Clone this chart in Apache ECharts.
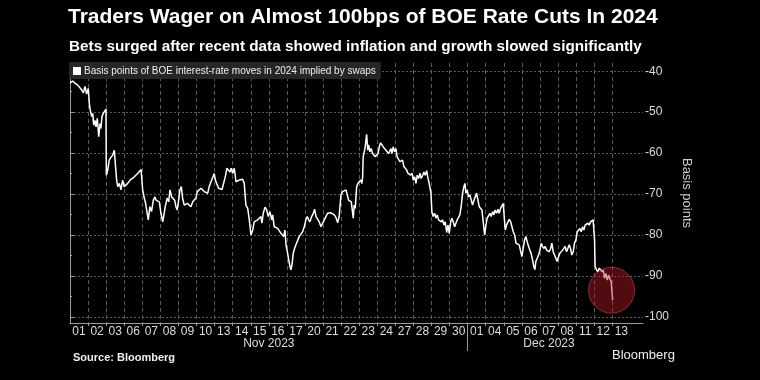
<!DOCTYPE html>
<html><head><meta charset="utf-8">
<script src="https://cdn.jsdelivr.net/npm/echarts@6/dist/echarts.min.js"></script>
<style>html,body{margin:0;padding:0;background:#000;}#c{width:760px;height:380px;}</style>
</head><body><div id="c"></div>
<script>
const dayLabels = ['01','02','03','06','07','08','09','10','13','14','15','16','17','20','21','22','23','24','27','28','29','30','01','04','05','06','07','08','11','12','13'];
const monthLabels = ['Nov 2023','Dec 2023'];
const monthCenters = [11, 26.5];
const monthBreak = [22];
const yTicks = [-100,-90,-80,-70,-60,-50,-40];
const yMinorTicks = [-95,-85,-75,-65,-55,-45];
// position in trading days since 1 Nov 2023 (fractional = intraday)
const dayPos = [
0.00,0.15,0.29,0.43,0.51,0.65,0.74,0.83,0.92,1.01,1.07,1.12,1.20,1.26,1.31,1.38,1.44,1.51,1.59,1.66,1.71,1.77,1.84,1.92,1.99,
2.01,2.09,2.17,2.27,2.36,2.45,2.54,2.58,2.64,2.73,2.82,2.91,3.00,3.10,3.19,3.28,3.37,3.47,3.56,3.65,3.74,3.83,3.93,3.98,
4.02,4.11,4.18,4.26,4.33,4.42,4.51,4.61,4.70,4.76,4.85,4.94,5.03,5.13,5.18,5.27,5.37,5.46,5.53,5.62,5.71,5.79,5.86,5.93,
6.01,6.08,6.16,6.23,6.32,6.42,6.51,6.60,6.69,6.79,6.88,6.97,7.04,7.15,7.25,7.34,7.43,7.52,7.62,7.70,7.80,7.89,7.98,
8.04,8.11,8.22,8.31,8.41,8.50,8.59,8.68,8.78,8.85,8.92,9.00,9.09,9.18,9.28,9.36,9.46,9.55,9.64,9.73,9.83,9.92,
10.01,10.11,10.19,10.29,10.38,10.47,10.56,10.62,10.69,10.79,10.88,10.97,11.06,11.16,11.21,11.30,11.39,11.49,11.58,11.67,11.76,11.82,11.89,11.95,
12.04,12.10,12.17,12.22,12.28,12.35,12.43,12.50,12.59,12.68,12.78,12.87,12.96,13.05,13.13,13.20,13.27,13.37,13.46,13.53,13.61,13.70,13.79,13.88,13.98,
14.07,14.16,14.25,14.34,14.44,14.53,14.62,14.71,14.81,14.89,14.99,15.08,15.17,15.27,15.36,15.41,15.49,15.56,15.64,15.67,15.72,15.78,15.86,15.93,
16.00,16.08,16.15,16.19,16.22,16.28,16.33,16.41,16.47,16.52,16.59,16.66,16.74,16.81,16.89,16.96,17.04,17.11,17.18,17.26,17.33,17.41,17.48,17.55,17.63,17.70,17.76,17.81,17.88,17.96,
18.03,18.10,18.18,18.25,18.32,18.40,18.47,18.55,18.62,18.69,18.77,18.84,18.92,18.99,19.07,19.14,19.21,19.29,19.36,19.43,19.51,19.58,19.65,19.73,19.80,19.87,19.97,
20.02,20.09,20.17,20.24,20.32,20.39,20.46,20.54,20.61,20.69,20.76,20.84,20.91,20.98,21.06,21.13,21.20,21.28,21.35,21.42,21.50,21.57,21.64,21.72,21.79,21.85,21.90,21.97,
22.05,22.12,22.20,22.27,22.35,22.42,22.49,22.57,22.64,22.72,22.79,22.86,22.94,23.01,23.08,23.16,23.23,23.30,23.38,23.45,23.52,23.60,23.67,23.74,23.82,23.89,23.97,
24.02,24.08,24.15,24.23,24.30,24.38,24.45,24.52,24.60,24.67,24.76,24.85,24.94,25.00,25.07,25.15,25.22,25.29,25.37,25.44,25.51,25.59,25.66,25.72,25.77,25.85,25.92,
26.00,26.07,26.14,26.22,26.29,26.37,26.44,26.51,26.59,26.66,26.73,26.81,26.88,26.95,27.03,27.10,27.17,27.25,27.32,27.39,27.47,27.54,27.62,27.69,27.76,27.84,27.91,27.99,
28.06,28.14,28.21,28.28,28.36,28.43,28.50,28.58,28.65,28.72,28.80,28.87,28.94,28.98,
29.02,29.05,29.13,29.20,29.28,29.35,29.43,29.50,29.57,29.65,29.72,29.80,29.87,29.94,29.98,30.02
];
// basis points of BOE moves in 2024 implied by swaps
const bps = [
-42.9,-42.4,-43.0,-43.4,-43.2,-44.6,-45.3,-43.7,-45.6,-44.2,-47.9,-49.5,-51.1,-50.3,-53.2,-52.0,-53.6,-51.5,-56.0,-52.8,-54.0,-51.1,-50.3,-49.9,-49.3,
-65.4,-64.1,-61.7,-61.0,-60.5,-59.3,-58.9,-66.6,-68.2,-67.4,-69.0,-66.6,-68.2,-67.8,-67.4,-67.0,-66.4,-66.6,-65.8,-65.6,-65.0,-64.6,-64.0,-63.7,
-69.0,-71.0,-72.2,-74.4,-76.3,-73.1,-74.3,-71.5,-70.7,-71.5,-71.1,-71.9,-74.7,-76.8,-75.5,-73.1,-71.0,-71.9,-69.0,-70.7,-71.1,-71.5,-73.1,-73.9,
-71.5,-69.0,-68.2,-71.1,-72.7,-73.1,-72.3,-72.7,-73.1,-71.9,-72.3,-71.0,-69.4,-69.0,-68.6,-68.2,-69.4,-69.0,-69.8,-68.2,-67.0,-67.4,-65.0,
-66.6,-66.2,-68.6,-68.6,-68.9,-68.6,-65.8,-63.7,-63.3,-64.6,-63.7,-65.0,-63.7,-67.0,-67.4,-66.6,-67.0,-66.4,-67.4,-72.7,-73.5,-76.3,
-80.0,-78.8,-76.8,-77.1,-76.3,-75.9,-75.5,-77.1,-74.7,-73.2,-73.9,-75.5,-74.3,-76.3,-75.1,-78.0,-77.6,-78.4,-78.8,-79.6,-79.2,-80.4,-78.8,-82.4,
-84.5,-86.1,-87.7,-88.5,-87.3,-84.5,-83.2,-82.4,-82.0,-80.4,-80.0,-79.2,-78.0,-76.3,-75.5,-76.3,-76.8,-75.5,-74.7,-73.7,-75.5,-75.9,-76.8,-78.0,-77.1,
-76.3,-75.5,-74.7,-75.1,-74.6,-74.7,-75.1,-75.7,-77.0,-75.5,-70.2,-69.4,-69.8,-69.0,-69.4,-71.5,-71.1,-71.9,-71.5,-75.9,-72.7,-73.5,-68.2,-67.4,
-67.8,-66.6,-67.4,-65.8,-60.9,-59.7,-58.5,-55.4,-59.3,-58.0,-59.7,-58.9,-60.1,-59.7,-60.9,-61.3,-60.1,-58.5,-57.5,-58.0,-58.5,-58.3,-59.3,-58.9,-60.1,-59.7,-58.9,-60.1,-58.5,-59.7,
-58.9,-60.9,-60.5,-62.1,-62.5,-61.7,-63.3,-62.9,-64.1,-64.9,-64.6,-65.4,-64.9,-66.6,-65.8,-67.4,-65.4,-66.2,-64.9,-66.2,-65.4,-64.6,-65.4,-64.3,-66.0,-67.4,-69.8,
-74.3,-75.5,-74.7,-75.9,-75.1,-76.3,-75.9,-76.8,-76.3,-77.6,-76.8,-79.4,-77.6,-79.6,-76.8,-75.9,-76.8,-78.0,-77.6,-76.3,-75.9,-75.1,-73.1,-69.8,-68.2,-67.4,-69.8,-69.0,
-70.7,-70.2,-71.5,-72.7,-71.5,-70.7,-69.8,-71.5,-73.1,-73.5,-73.9,-76.8,-80.0,-77.6,-75.9,-76.3,-74.7,-75.5,-74.3,-75.1,-73.9,-74.7,-73.7,-74.7,-73.5,-73.9,-72.3,
-75.5,-78.8,-77.6,-76.8,-76.2,-76.8,-78.0,-79.2,-80.0,-82.0,-82.2,-82.4,-82.8,-85.3,-83.3,-81.2,-80.4,-81.6,-82.8,-82.4,-84.5,-86.1,-87.7,-88.5,-86.5,-85.7,-84.9,
-83.7,-82.0,-82.8,-83.3,-82.8,-83.7,-83.3,-84.1,-83.3,-82.0,-84.1,-84.5,-85.7,-86.5,-85.3,-84.5,-84.9,-83.7,-84.1,-82.8,-84.1,-83.3,-82.4,-83.3,-84.9,-84.1,-82.0,-81.2,
-79.2,-79.6,-78.4,-79.2,-78.0,-78.8,-77.6,-78.0,-77.1,-77.6,-76.8,-77.0,-76.3,-75.9,
-81.2,-87.7,-88.5,-89.0,-88.1,-88.5,-89.0,-88.5,-90.6,-89.4,-91.0,-89.8,-90.8,-91.4,-91.8,-95.9
];
const highlight = [29.96, -93.5];

const FONT = 'Liberation Sans, Arial, sans-serif';
const lineData = dayPos.map((d, i) => [d, bps[i]]);
const seriesName = 'Basis points of BOE interest-rate moves in 2024 implied by swaps';

const chart = echarts.init(document.getElementById('c'), null, {renderer: 'canvas'});
chart.setOption({
  backgroundColor: '#000',
  animation: false,
  textStyle: {fontFamily: FONT},
  title: [
    {text: 'Traders Wager on Almost 100bps of BOE Rate Cuts In 2024', left: 68, top: 7, padding: 0,
     textStyle: {color: '#fff', fontSize: 21, fontWeight: 'bold', fontFamily: FONT}},
    {text: 'Bets surged after recent data showed inflation and growth slowed significantly', left: 69, top: 39, padding: 0,
     textStyle: {color: '#fff', fontSize: 15.3, fontWeight: 'bold', fontFamily: FONT}}
  ],
  legend: {
    left: 69, top: 62, padding: [4, 5, 3, 4], backgroundColor: '#262626',
    itemWidth: 8, itemHeight: 8, itemGap: 4,
    textStyle: {color: '#eee', fontSize: 10, fontFamily: FONT, padding: [0, 0, 0, -2]},
    data: [{name: seriesName, icon: 'rect', itemStyle: {color: '#fff'}}],
    selectedMode: false
  },
  grid: {left: 70, right: 117, top: 63, bottom: 57, containLabel: false},
  xAxis: [
    {type: 'value', min: 0, max: 31.7, position: 'bottom', offset: 0,
     axisLine: {show: true, lineStyle: {color: '#9a9a9a', width: 1}},
     axisTick: {show: true, customValues: dayLabels.map((_, i) => i + 1).slice(0, 30), length: 3, lineStyle: {color: '#9a9a9a'}},
     axisLabel: {show: true, customValues: dayLabels.map((_, i) => i + 0.5), formatter: v => dayLabels[Math.floor(v)],
       color: '#ddd', fontSize: 12, margin: 3, fontFamily: FONT},
     splitLine: {show: true, lineStyle: {color: '#5a5a5a', type: [4, 3], width: 1}}},
    {type: 'value', min: 0, max: 31.7, position: 'bottom', offset: 0,
     axisLine: {show: false},
     axisTick: {show: true, customValues: monthBreak, length: 28, lineStyle: {color: '#9a9a9a'}},
     axisLabel: {show: true, customValues: monthCenters, formatter: v => monthLabels[monthCenters.indexOf(v)],
       color: '#ddd', fontSize: 12, margin: 15, fontFamily: FONT},
     splitLine: {show: false}}
  ],
  yAxis: [
    {type: 'value', min: -101.5, max: -38, position: 'right', offset: 0,
     name: 'Basis points', nameLocation: 'middle', nameRotate: -90, nameGap: 31,
     nameTextStyle: {color: '#ccc', fontSize: 13, fontFamily: FONT},
     axisLine: {show: true, lineStyle: {color: '#9a9a9a', width: 1}},
     axisTick: {show: true, customValues: yTicks, length: 4, lineStyle: {color: '#9a9a9a'}},
     axisLabel: {show: true, customValues: yTicks, color: '#ddd', fontSize: 12, margin: 2, fontFamily: FONT},
     splitLine: {show: true, lineStyle: {color: '#5a5a5a', type: [2, 2], width: 1}}},
    {type: 'value', min: -101.5, max: -38, position: 'right', offset: 0,
     axisLine: {show: false},
     axisTick: {show: true, customValues: yMinorTicks, length: 2, lineStyle: {color: '#9a9a9a'}},
     axisLabel: {show: false},
     splitLine: {show: false}}
  ],
  series: [
    {name: seriesName, type: 'line', data: lineData, xAxisIndex: 0, yAxisIndex: 0,
     showSymbol: false, symbol: 'none', lineStyle: {color: '#fff', width: 1.5}, itemStyle: {color: '#fff'}, z: 3},
    {name: 'highlight', type: 'scatter', data: [highlight], xAxisIndex: 0, yAxisIndex: 0,
     symbolSize: 46, itemStyle: {color: 'rgba(190,25,40,0.55)', borderColor: 'rgba(230,90,100,0.6)', borderWidth: 1}, z: 4, silent: true}
  ],
  graphic: [
    {type: 'text', left: 73, top: 352, style: {text: 'Source: Bloomberg', fill: '#eee', font: 'bold 11px ' + FONT}},
    {type: 'text', left: 612, top: 349, style: {text: 'Bloomberg', fill: '#eee', font: '13px ' + FONT}}
  ]
});
</script></body></html>
